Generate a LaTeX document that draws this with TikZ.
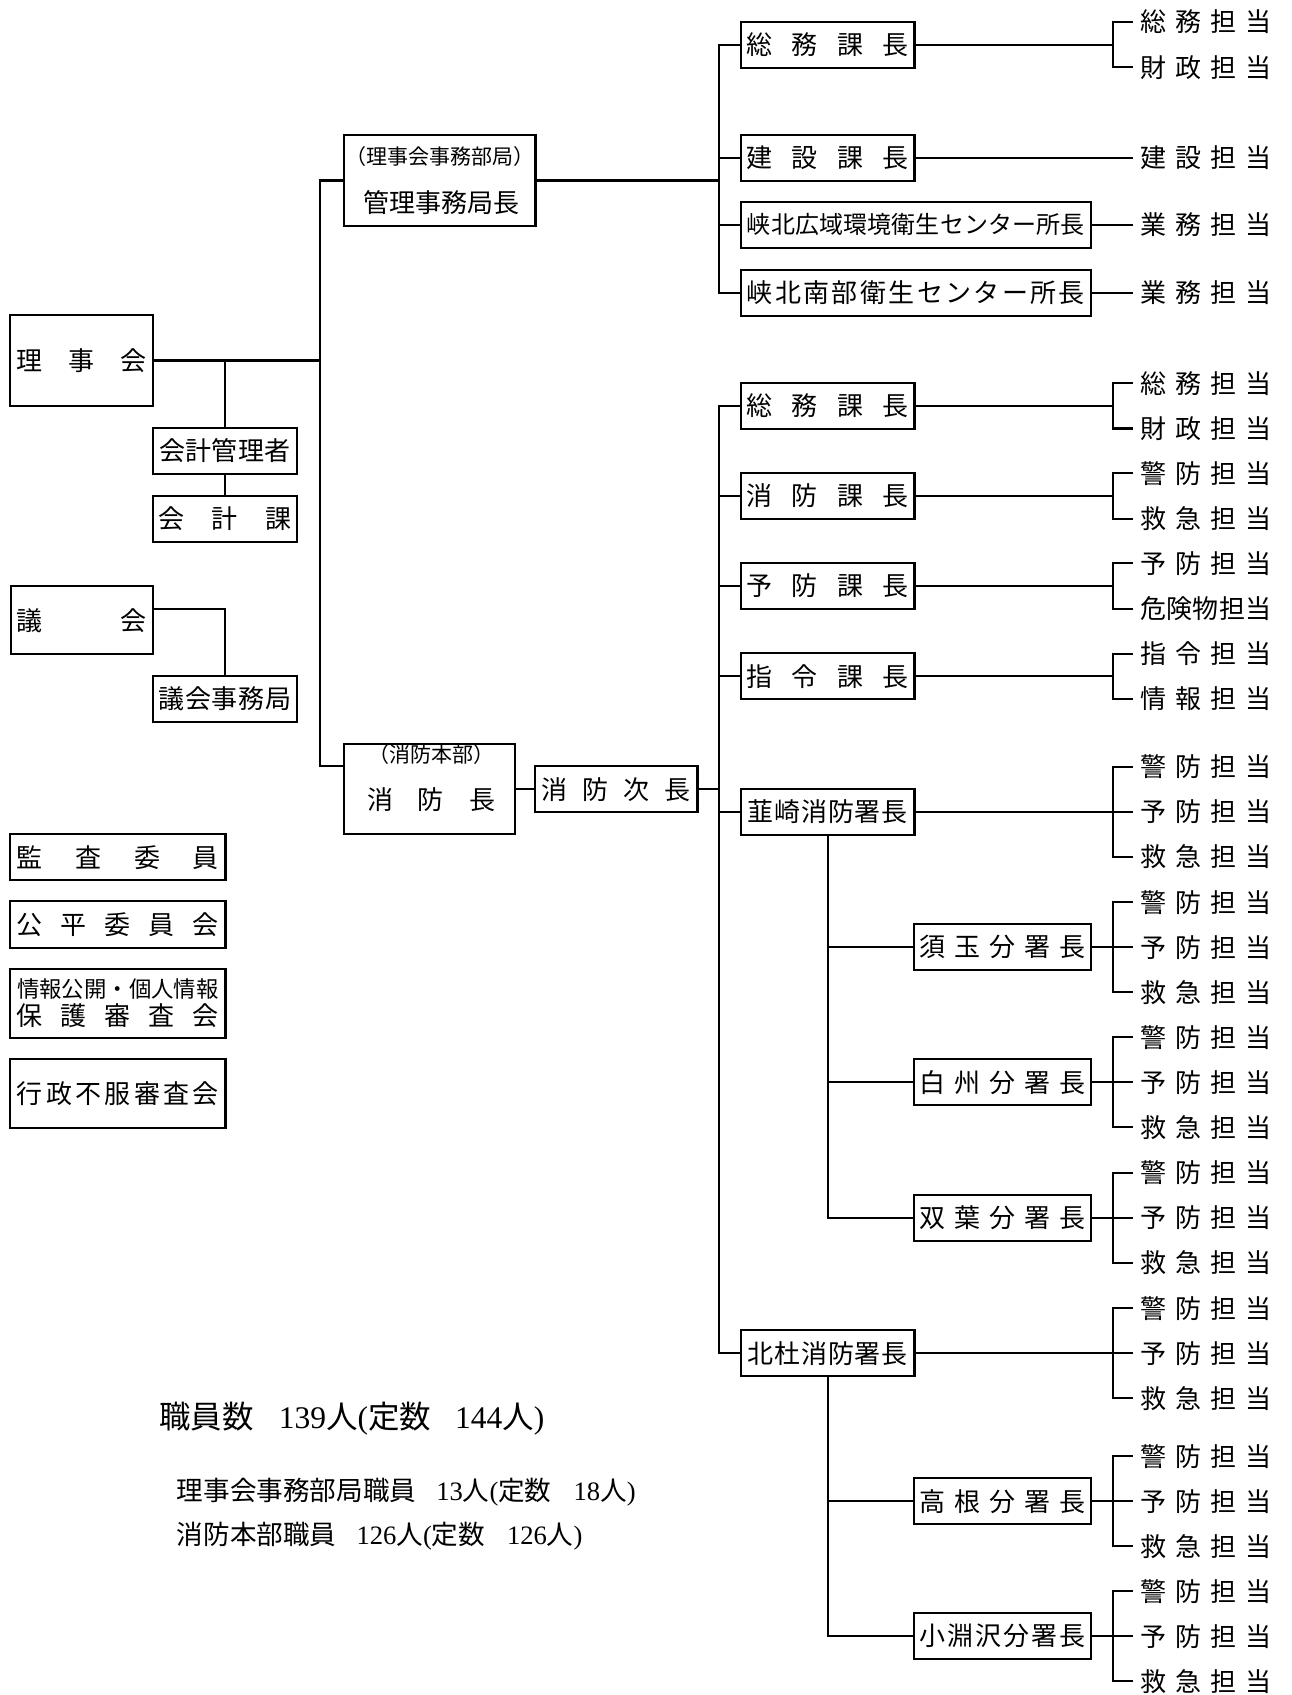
\documentclass[tikz,border=0pt]{standalone}
\usepackage{fontspec}
\usetikzlibrary{calc}
\setmainfont{Liberation Serif}
\newfontfamily\jp{Noto Sans CJK JP}
\newcommand\myspread[2]{\makebox[#1][s]{#2}}
\newcommand\jpf{\jp\fontsize{13pt}{15pt}\selectfont}
\newcommand\myKB{警\hfill 防\hfill 担\hfill 当}
\newcommand\myYB{予\hfill 防\hfill 担\hfill 当}
\newcommand\myKQ{救\hfill 急\hfill 担\hfill 当}
\begin{document}
\begin{tikzpicture}[x=0.5pt,y=-0.5pt,
  box/.style={draw,line width=1.1pt,inner sep=0pt,minimum height=23pt,font=\jpf},
  ln/.style={line width=1.1pt},
  lbl/.style={inner sep=0pt,font=\jpf},
  lbls/.style={inner sep=0pt,font=\jp\fontsize{10.5pt}{12pt}\selectfont},
  tan/.style={anchor=west,inner xsep=3.5pt,inner ysep=0pt,font=\jpf},
  note/.style={anchor=west,inner sep=0pt}]
\useasboundingbox (0,0) rectangle (1291,1695);
\coordinate (trunk) at (320,0);
\coordinate (rtrunk) at (718.7,0);
\coordinate (bx) at (1113,0);

% ---- left side ----
\node[box,minimum width=71.5pt,minimum height=45.5pt] (riji) at (81.5,360.5) {\myspread{65pt}{理\hfill 事\hfill 会}};
\node[box,minimum width=95.75pt,minimum height=45.5pt] (kanri) at (439.75,180.5) {};
\node[lbls] (kanriS) at (440,157) {（理事会事務部局）};
\node[lbl] (kanriM) at (441,203) {管理事務局長};
\node[box,minimum width=72pt,minimum height=22.85pt] (kkanri) at (225,450.8) {\myspread{66pt}{会\hfill 計\hfill 管\hfill 理\hfill 者}};
\node[box,minimum width=72pt] (kka) at (225,518.7) {\myspread{66.5pt}{会\hfill 計\hfill 課}};
\node[box,minimum width=71.2pt,minimum height=34.15pt] (gikai) at (81.8,620.2) {\myspread{65pt}{議\hfill 会}};
\node[box,minimum width=72pt] (gjim) at (225,699) {\myspread{66.5pt}{議\hfill 会\hfill 事\hfill 務\hfill 局}};
\node[box,minimum width=85.6pt,minimum height=45.3pt] (shobo) at (429.6,789) {};
\node[lbls] (shoboS) at (431,755) {（消防本部）};
\node[lbl] (shoboM) at (431,800) {\myspread{64pt}{消\hfill 防\hfill 長}};
\node[box,minimum width=81.25pt] (jicho) at (616.25,789.3) {\myspread{74.5pt}{消\hfill 防\hfill 次\hfill 長}};

\node[box,minimum width=107.55pt,minimum height=23.15pt] (kansa) at (117.85,857.2) {\myspread{100.85pt}{監\hfill 査\hfill 委\hfill 員}};
\node[box,minimum width=107.55pt,minimum height=23.35pt] (kohei) at (117.85,924.35) {\myspread{100.85pt}{公\hfill 平\hfill 委\hfill 員\hfill 会}};
\node[box,minimum width=107.55pt,minimum height=34.35pt] (joho) at (117.85,1003.65) {};
\node[lbl,font=\jp\fontsize{11.2pt}{13pt}\selectfont] (joho1) at (117.85,989.3) {情報公開・個人情報};
\node[lbl] (joho2) at (117.85,1016) {\myspread{100.85pt}{保\hfill 護\hfill 審\hfill 査\hfill 会}};
\node[box,minimum width=107.55pt,minimum height=34.5pt] (gyosei) at (117.85,1093.8) {\myspread{100.85pt}{行\hfill 政\hfill 不\hfill 服\hfill 審\hfill 査\hfill 会}};

% ---- column 2 ----
\node[box,minimum width=86.85pt] (sA) at (827.65,44.7) {\myspread{81pt}{総\hfill 務\hfill 課\hfill 長}};
\node[box,minimum width=86.85pt] (kA) at (827.65,157.7) {\myspread{81pt}{建\hfill 設\hfill 課\hfill 長}};
\node[box,minimum width=175.1pt,font=\jp\fontsize{12pt}{14pt}\selectfont] (hA) at (915.9,224.85) {\myspread{169pt}{峡\hfill 北\hfill 広\hfill 域\hfill 環\hfill 境\hfill 衛\hfill 生\hfill セ\hfill ン\hfill タ\hfill ー\hfill 所\hfill 長}};
\node[box,minimum width=175.1pt] (nA) at (915.9,292.65) {\myspread{169pt}{峡\hfill 北\hfill 南\hfill 部\hfill 衛\hfill 生\hfill セ\hfill ン\hfill タ\hfill ー\hfill 所\hfill 長}};
\node[box,minimum width=86.85pt] (sB) at (827.65,405.85) {\myspread{81pt}{総\hfill 務\hfill 課\hfill 長}};
\node[box,minimum width=86.85pt] (shk) at (827.65,496) {\myspread{81pt}{消\hfill 防\hfill 課\hfill 長}};
\node[box,minimum width=86.85pt] (ybk) at (827.65,586) {\myspread{81pt}{予\hfill 防\hfill 課\hfill 長}};
\node[box,minimum width=86.85pt] (sik) at (827.65,676.3) {\myspread{81pt}{指\hfill 令\hfill 課\hfill 長}};
\node[box,minimum width=86.85pt] (nira) at (827.65,811.85) {\myspread{80pt}{韮\hfill 崎\hfill 消\hfill 防\hfill 署\hfill 長}};
\node[box,minimum width=86.85pt] (hoku) at (827.65,1353.35) {\myspread{80pt}{北\hfill 杜\hfill 消\hfill 防\hfill 署\hfill 長}};

% ---- column 3 ----
\node[box,minimum width=88.6pt] (sutama) at (1002.3,947.2) {\myspread{82.75pt}{須\hfill 玉\hfill 分\hfill 署\hfill 長}};
\node[box,minimum width=88.6pt] (hakushu) at (1002.3,1082.3) {\myspread{82.75pt}{白\hfill 州\hfill 分\hfill 署\hfill 長}};
\node[box,minimum width=88.6pt] (futaba) at (1002.3,1217.85) {\myspread{82.75pt}{双\hfill 葉\hfill 分\hfill 署\hfill 長}};
\node[box,minimum width=88.6pt] (takane) at (1002.3,1501.3) {\myspread{82.75pt}{高\hfill 根\hfill 分\hfill 署\hfill 長}};
\node[box,minimum width=88.6pt] (kobuchi) at (1002.3,1636.15) {\myspread{82.75pt}{小\hfill 淵\hfill 沢\hfill 分\hfill 署\hfill 長}};

% ---- staff texts ----
\node[tan] (sA-1) at (1133,22) {\makebox[65.5pt][s]{総\hfill 務\hfill 担\hfill 当}};
\node[tan] (sA-2) at (1133,67.4) {\makebox[65.5pt][s]{財\hfill 政\hfill 担\hfill 当}};
\node[tan] (kA-1) at (1133,157.7) {\makebox[65.5pt][s]{建\hfill 設\hfill 担\hfill 当}};
\node[tan] (hA-1) at (1133,224.85) {\makebox[65.5pt][s]{業\hfill 務\hfill 担\hfill 当}};
\node[tan] (nA-1) at (1133,292.65) {\makebox[65.5pt][s]{業\hfill 務\hfill 担\hfill 当}};
\node[tan] (sB-1) at (1133,383.2) {\makebox[65.5pt][s]{総\hfill 務\hfill 担\hfill 当}};
\node[tan] (sB-2) at (1133,428.5) {\makebox[65.5pt][s]{財\hfill 政\hfill 担\hfill 当}};
\node[tan] (shk-1) at (1133,473.3) {\makebox[65.5pt][s]{\myKB}};
\node[tan] (shk-2) at (1133,518.7) {\makebox[65.5pt][s]{\myKQ}};
\node[tan] (ybk-1) at (1133,563.3) {\makebox[65.5pt][s]{\myYB}};
\node[tan] (ybk-2) at (1133,608.7) {\makebox[65.5pt][s]{危\hfill 険\hfill 物\hfill 担\hfill 当}};
\node[tan] (sik-1) at (1133,653.6) {\makebox[65.5pt][s]{指\hfill 令\hfill 担\hfill 当}};
\node[tan] (sik-2) at (1133,699) {\makebox[65.5pt][s]{情\hfill 報\hfill 担\hfill 当}};

% ---- connectors ----
\draw[ln] (riji.east) -- (riji.east -| trunk);
\coordinate (sbin) at ($(shobo.north west)!0.25!(shobo.south west)$);
\draw[ln] (kanri.west) -- (kanri.west -| trunk) -- (sbin -| trunk) -- (sbin);
\draw[ln] (kkanri.north |- riji.east) -- (kkanri.north);
\draw[ln] (kkanri.south) -- (kka.north);
\coordinate (gout) at ($(gikai.north east)!0.34!(gikai.south east)$);
\draw[ln] (gout) -| (gjim.north);
\draw[ln] (shobo.east |- jicho.west) -- (jicho.west);
\draw[ln] (jicho.east) -- (jicho.east -| rtrunk);

\draw[ln] (kanri.east) -- (kanri.east -| rtrunk);
\draw[ln] (sA.west) -- (sA.west -| rtrunk) -- (nA.west -| rtrunk) -- (nA.west);
\draw[ln] (kA.west) -- (kA.west -| rtrunk);
\draw[ln] (hA.west) -- (hA.west -| rtrunk);

\draw[ln] (sB.west) -- (sB.west -| rtrunk) -- (hoku.west -| rtrunk) -- (hoku.west);
\foreach \nm in {shk,ybk,sik,nira} \draw[ln] (\nm.west) -- (\nm.west -| rtrunk);

\foreach \nm in {sA,sB,shk,ybk,sik} {
  \draw[ln] (\nm.east) -- (\nm.east -| bx);
  \draw[ln] (\nm-1.west) -| (\nm.east -| bx) |- (\nm-2.west);
}
\draw[ln] (kA.east) -- (kA-1.west);
\draw[ln] (hA.east) -- (hA-1.west);
\draw[ln] (nA.east) -- (nA-1.west);

\foreach \nm/\yy in {nira/811.85,sutama/947.2,hakushu/1082.3,futaba/1217.85,hoku/1353.35,takane/1501.3,kobuchi/1636.15} {
  \node[tan] (\nm-1) at (1133,\yy-45) {\makebox[65.5pt][s]{\myKB}};
  \node[tan] (\nm-2) at (1133,\yy) {\makebox[65.5pt][s]{\myYB}};
  \node[tan] (\nm-3) at (1133,\yy+45) {\makebox[65.5pt][s]{\myKQ}};
  \draw[ln] (\nm-1.west) -| (\nm.east -| bx) |- (\nm-3.west);
  \draw[ln] (\nm.east) -- (\nm-2.west);
}

\draw[ln] (nira.south) -- (nira.south |- futaba.west) -- (futaba.west);
\draw[ln] (nira.south |- sutama.west) -- (sutama.west);
\draw[ln] (nira.south |- hakushu.west) -- (hakushu.west);
\draw[ln] (hoku.south) -- (hoku.south |- kobuchi.west) -- (kobuchi.west);
\draw[ln] (hoku.south |- takane.west) -- (takane.west);

% ---- staff numbers ----
\node[note,font=\fontsize{15.75pt}{18pt}\selectfont] (total) at (159,1419) {{\jp 職員数}\hspace{12.5pt}139{\jp 人}({\jp 定数}\hspace{12pt}144{\jp 人})};
\node[note,font=\fontsize{13.3pt}{16pt}\selectfont] (st1) at (176.5,1491.7) {{\jp 理事会事務部局職員}\hspace{10pt}13{\jp 人}({\jp 定数}\hspace{11pt}18{\jp 人})};
\node[note,font=\fontsize{13.3pt}{16pt}\selectfont] (st2) at (176.5,1535.7) {{\jp 消防本部職員}\hspace{10pt}126{\jp 人}({\jp 定数}\hspace{11pt}126{\jp 人})};
\end{tikzpicture}
\end{document}
